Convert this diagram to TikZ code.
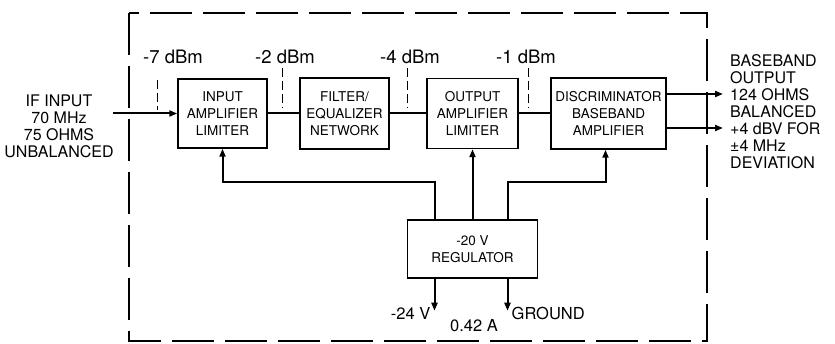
\documentclass[tikz,border=0pt]{standalone}
\usepackage{fontspec}
\setmainfont{TeX Gyre Heros}
\usetikzlibrary{arrows.meta}
\begin{document}
\begin{tikzpicture}[x=1pt,y=-1pt,
  blk/.style={draw,line width=1.5pt,inner sep=0pt,align=center,font=\fontsize{13.5}{17}\selectfont},
  sig/.style={line width=2pt},
  arr/.style={line width=2pt,-{Triangle[length=8pt,width=6pt]}},
  tick/.style={line width=1pt,dash pattern=on 9pt off 4pt},
  lbl/.style={inner sep=0pt,font=\fontsize{16}{17}\selectfont},
  dbm/.style={inner sep=0pt,font=\fontsize{18.5}{20}\selectfont},
  dlbl/.style={inner sep=0pt,font=\fontsize{16.5}{17}\selectfont}]
\useasboundingbox (0,0) rectangle (835,344);
% enclosure
\draw[line width=1.2pt,dash pattern=on 42pt off 11pt] (129,13) rectangle (707,341);
% blocks
\node[blk,minimum width=89pt,minimum height=69pt] (inamp) at (222.5,113.5) {INPUT\\AMPLIFIER\\LIMITER};
\node[blk,minimum width=89pt,minimum height=71pt] (filt) at (344.5,113.5) {FILTER/\\EQUALIZER\\NETWORK};
\node[blk,minimum width=91pt,minimum height=70pt] (outamp) at (472.5,113.5) {OUTPUT\\AMPLIFIER\\LIMITER};
\node[blk,minimum width=115pt,minimum height=71pt] (disc) at (608.5,113.5) {DISCRIMINATOR\\BASEBAND\\AMPLIFIER};
\node[blk,minimum width=130pt,minimum height=58pt] (reg) at (472.5,249) {-20 V\\REGULATOR};
% input
\node[lbl,align=center] (inlbl) at (59,126) {IF INPUT\\70 MHz\\75 OHMS\\UNBALANCED};
\coordinate (inpt) at (113,113.5);
\draw[arr] (inpt) -- (inamp.west |- inpt);
% chain
\draw[sig] (inamp.east) -- (filt.west);
\draw[sig] (filt.east) -- (outamp.west);
\draw[sig] (outamp.east) -- (disc.west);
% outputs
\coordinate (o1) at (723,94);
\coordinate (o2) at (723,128);
\draw[arr] (disc.east |- o1) -- (o1);
\draw[arr] (disc.east |- o2) -- (o2);
\node[lbl,align=left,anchor=west] (outlbl) at (730,112) {BASEBAND\\OUTPUT\\124 OHMS\\BALANCED\\+4 dBV FOR\\±4 MHz\\DEVIATION};
% level labels and ticks
\node[dbm] (l7) at (173,57) {-7 dBm};
\node[dbm] (l2) at (285,57) {-2 dBm};
\node[dbm] (l4) at (410,57) {-4 dBm};
\node[dbm] (l1) at (526,57) {-1 dBm};
\coordinate (t7) at (157.5,110);
\coordinate (t2) at (282.5,108);
\coordinate (t4) at (407.5,108);
\coordinate (t1) at (528.5,108);
\draw[tick] (157.5,80) -- (t7);
\draw[tick] (282.5,68) -- (t2);
\draw[tick] (407.5,68) -- (t4);
\draw[tick] (528.5,68) -- (t1);
% power feeds
\draw[arr] ([xshift=-38pt]reg.north) -- ++(0,-37) -| (inamp.south);
\draw[arr] (outamp.south |- reg.north) -- (outamp.south);
\draw[arr] ([xshift=35pt]reg.north) -- ++(0,-37) -| ([xshift=-3pt]disc.south);
% supply
\draw[arr] ([xshift=-38pt]reg.south) -- ++(0,32) coordinate (s24);
\draw[arr] ([xshift=35pt]reg.south) -- ++(0,32) coordinate (sgnd);
\node[dlbl,anchor=east] (v24) at ([xshift=-4pt,yshift=-3pt]s24) {-24 V};
\node[dlbl,anchor=west] (gnd) at ([xshift=4pt,yshift=-3pt]sgnd) {GROUND};
\node[dlbl] (amp) at (474,326) {0.42 A};
\end{tikzpicture}
\end{document}
